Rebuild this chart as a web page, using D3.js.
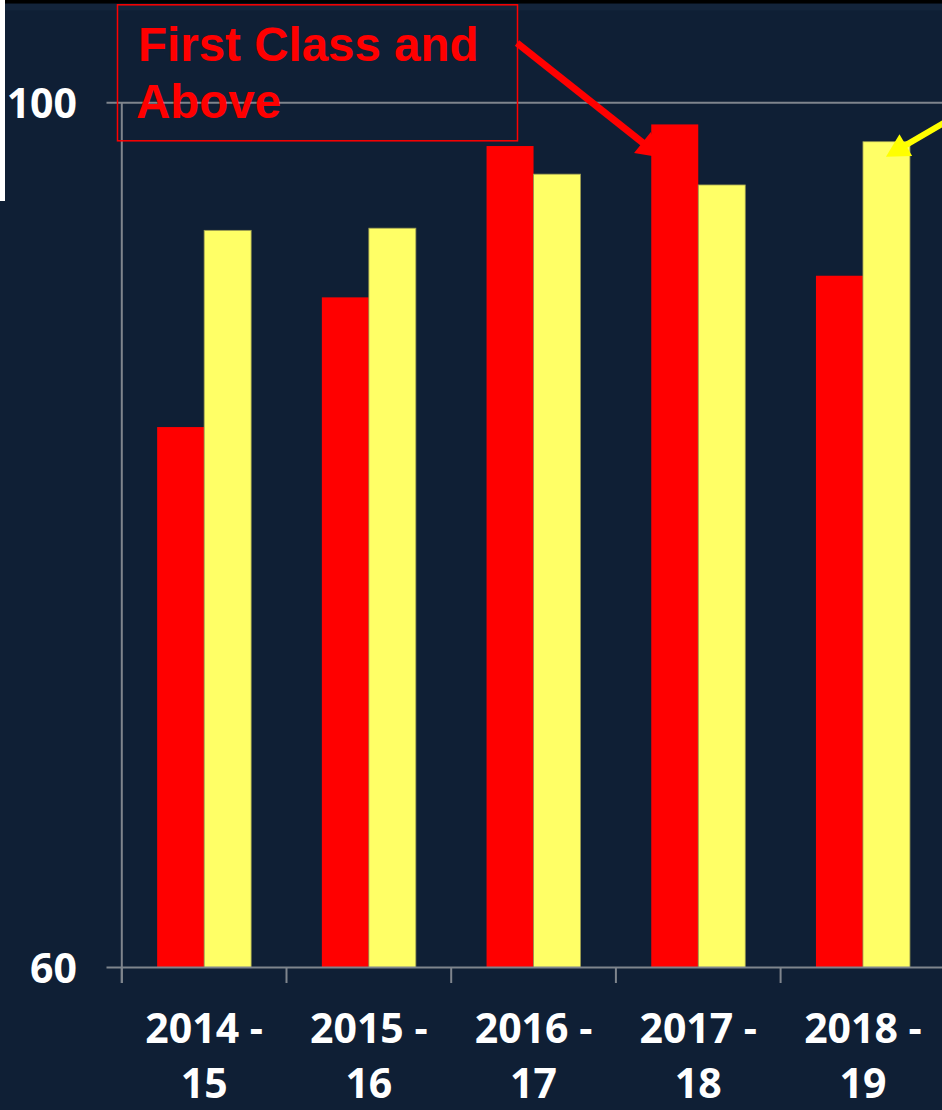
<!DOCTYPE html>
<html>
<head>
<meta charset="utf-8">
<script src="https://cdn.jsdelivr.net/npm/d3@7/dist/d3.min.js"></script>
<style>
  html, body { margin: 0; padding: 0; background: #0f1f35; }
  svg { display: block; }
</style>
</head>
<body>
<script>
// ---- data ----
const categories = ["2014 - 15", "2015 - 16", "2016 - 17", "2017 - 18", "2018 - 19"];
const seriesNames = ["First Class and Above", "Second series"];
const firstClassValues = [85.0, 91.0, 98.0, 99.0, 92.0];
const secondValues = [94.1, 94.2, 96.7, 96.2, 98.2];
const yTickValues = [60, 100];
const seriesColors = ["#ff0000", "#ffff66"];

const W = 942, H = 1110;
const svg = d3.select("body").append("svg").attr("width", W).attr("height", H);

// background
svg.append("rect").attr("width", W).attr("height", H).attr("fill", "#0f1f35");
svg.append("rect").attr("x", 0).attr("y", 3.5).attr("width", W).attr("height", 7).attr("fill", "#13243b");
svg.append("rect").attr("x", 0).attr("y", 0).attr("width", W).attr("height", 3.5).attr("fill", "#000000");
svg.append("rect").attr("x", 0).attr("y", 0).attr("width", 5).attr("height", 201).attr("fill", "#ffffff");

// scales
const y = d3.scaleLinear().domain([60, 100]).range([967.5, 102.8]);
const x0 = d3.scaleBand().domain(categories).range([121.8, 121.8 + 5 * 164.7]).padding(0);
const barW = 47;
const x1 = d3.scaleBand().domain([0, 1]).range([-barW, barW]).padding(0);

const rows = categories.map((c, i) => ({ cat: c, vals: [firstClassValues[i], secondValues[i]] }));

// gridline at 100
svg.append("line")
  .attr("x1", 106.5).attr("x2", W)
  .attr("y1", y(100)).attr("y2", y(100))
  .attr("stroke", "#7f858d").attr("stroke-width", 2);

// bars
const g = svg.append("g");
rows.forEach(r => {
  const cx = x0(r.cat) + x0.bandwidth() / 2;
  r.vals.forEach((v, s) => {
    g.append("rect")
      .attr("x", cx + x1(s))
      .attr("y", y(v))
      .attr("width", x1.bandwidth())
      .attr("height", y(60) - y(v))
      .attr("fill", seriesColors[s])
      .attr("stroke", s === 1 ? "#9a9a50" : "none")
      .attr("stroke-width", s === 1 ? 0.8 : 0);
  });
});

// y axis line
svg.append("line")
  .attr("x1", 121.8).attr("x2", 121.8)
  .attr("y1", y(100)).attr("y2", 983)
  .attr("stroke", "#7f858d").attr("stroke-width", 2);

// x axis
const xAxis = d3.axisBottom(x0).tickSizeInner(0).tickSizeOuter(0).tickFormat("");
const xg = svg.append("g").attr("transform", `translate(0,${y(60)})`).call(xAxis);
xg.select(".domain").remove();
svg.append("line")
  .attr("x1", 106.5).attr("x2", W)
  .attr("y1", y(60)).attr("y2", y(60))
  .attr("stroke", "#7f858d").attr("stroke-width", 2);
categories.forEach(c => {
  svg.append("line")
    .attr("x1", x0(c)).attr("x2", x0(c))
    .attr("y1", y(60)).attr("y2", 983)
    .attr("stroke", "#7f858d").attr("stroke-width", 2);
});

// x labels (two lines)
const labFont = "'Open Sans', 'DejaVu Sans', sans-serif";
categories.forEach(c => {
  const parts = c.split(" - ");
  const cx = x0(c) + x0.bandwidth() / 2;
  const t = svg.append("text")
    .attr("x", cx).attr("text-anchor", "middle")
    .attr("font-family", labFont).attr("font-weight", 700)
    .attr("font-size", 41).attr("fill", "#ffffff");
  t.append("tspan").attr("x", cx).attr("y", 1043).text(parts[0] + " -");
  t.append("tspan").attr("x", cx).attr("y", 1098).text(parts[1]);
});

// y labels
yTickValues.forEach(v => {
  svg.append("text")
    .attr("x", 77).attr("y", y(v) + 15)
    .attr("text-anchor", "end")
    .attr("font-family", labFont).attr("font-weight", 700)
    .attr("font-size", 41).attr("fill", "#ffffff")
    .text(v);
});

// legend box annotation
svg.append("rect")
  .attr("x", 117.5).attr("y", 4.8).attr("width", 400).attr("height", 136)
  .attr("fill", "none").attr("stroke", "#ff0000").attr("stroke-width", 1.5);
const lt = svg.append("text")
  .attr("font-family", "'Liberation Sans', Arial, sans-serif").attr("font-weight", 700)
  .attr("font-size", 47.5).attr("fill", "#ff0000");
lt.append("tspan").attr("x", 138).attr("y", 61).text("First Class and");
lt.append("tspan").attr("x", 136).attr("y", 118).text("Above");

// arrows
function arrow(from, tip, color, lw, headL, headW) {
  const dx = tip[0] - from[0], dy = tip[1] - from[1];
  const len = Math.hypot(dx, dy);
  const ux = dx / len, uy = dy / len;
  const bx = tip[0] - ux * headL, by = tip[1] - uy * headL;
  svg.append("line")
    .attr("x1", from[0]).attr("y1", from[1])
    .attr("x2", bx + ux * 2).attr("y2", by + uy * 2)
    .attr("stroke", color).attr("stroke-width", lw);
  svg.append("polygon")
    .attr("points", [
      [tip[0], tip[1]],
      [bx - uy * headW / 2, by + ux * headW / 2],
      [bx + uy * headW / 2, by - ux * headW / 2]
    ].map(p => p.join(",")).join(" "))
    .attr("fill", color);
}
const redCx = x0(categories[3]) + x0.bandwidth() / 2 + x1(0);
arrow([517, 43], [redCx + 10, y(firstClassValues[3]) + 33], "#ff0000", 7, 24, 27);
const yelCx = x0(categories[4]) + x0.bandwidth() / 2 + x1(1);
arrow([1000, 90], [yelCx + 23, y(secondValues[4]) + 15], "#ffff00", 6, 23, 25);
</script>
</body>
</html>
